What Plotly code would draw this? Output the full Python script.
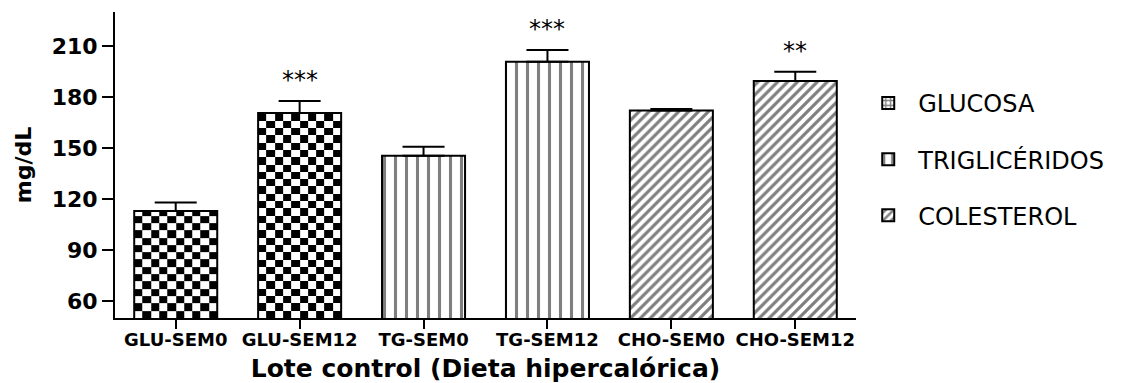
import numpy as np
import plotly.graph_objects as go

# ---- data ----
categories = ["GLU-SEM0", "GLU-SEM12", "TG-SEM0", "TG-SEM12", "CHO-SEM0", "CHO-SEM12"]
means = [112.9, 170.6, 145.5, 200.8, 172.0, 189.4]
sem = [5.0, 7.0, 5.3, 6.8, 1.0, 5.5]
significance = ["", "***", "", "***", "", "**"]
groups = ["GLUCOSA", "TRIGLICÉRIDOS", "COLESTEROL"]
group_idx = {"GLUCOSA": [0, 1], "TRIGLICÉRIDOS": [2, 3], "COLESTEROL": [4, 5]}
y_ticks = [60, 90, 120, 150, 180, 210]

# ---- style ----
BAR_W = 0.67
Y0, Y1 = 50, 230
BOLD = "DejaVu Sans"
fig = go.Figure()

# checkerboard fill for glucose bars (heatmap bricks inside the bar extent)
cell_h = 4.3
ncol = 10
for i in group_idx["GLUCOSA"]:
    xe = [i - BAR_W / 2 + k * BAR_W / ncol for k in range(ncol + 1)]
    ye = list(np.arange(Y0, means[i], cell_h)) + [means[i]]
    z = [[(r + c) % 2 for c in range(ncol)] for r in range(len(ye) - 1)]
    fig.add_trace(go.Heatmap(x=xe, y=ye, z=z, colorscale=[[0, "white"], [1, "black"]],
                             zmin=0, zmax=1, showscale=False, hoverinfo="skip", zsmooth=False))

patterns = {
    "GLUCOSA": dict(shape=""),
    "TRIGLICÉRIDOS": dict(shape="|", size=11, solidity=0.28, fgcolor="black", bgcolor="white"),
    "COLESTEROL": dict(shape="/", size=7, solidity=0.45, fgcolor="black", bgcolor="white"),
}

for gi, g in enumerate(groups):
    idx = group_idx[g]
    fill = "rgba(0,0,0,0)" if g == "GLUCOSA" else "white"
    fig.add_trace(go.Bar(
        x=idx, y=[means[i] for i in idx], width=BAR_W, name=g,
        legendgroup=g, showlegend=(g != "GLUCOSA"),
        marker=dict(color=fill, line=dict(color="black", width=2), pattern=patterns[g]),
        error_y=dict(type="data", symmetric=False, array=[sem[i] for i in idx],
                     arrayminus=[0 for _ in idx], color="black", thickness=2, width=21),
        legendrank=gi + 1,
    ))

# legend proxy for the checkerboard series
fig.add_trace(go.Bar(x=[None], y=[None], name="GLUCOSA", legendgroup="GLUCOSA", legendrank=1,
                     marker=dict(color="white", line=dict(color="black", width=2),
                                 pattern=dict(shape="+", size=6, solidity=0.5,
                                              fgcolor="black", bgcolor="white"))))

for i, s in enumerate(significance):
    if s:
        fig.add_annotation(x=i, y=means[i] + sem[i], text=s, showarrow=False,
                           yanchor="bottom", yshift=5,
                           font=dict(family="DejaVu Sans", size=24, color="black"))

fig.update_layout(
    width=1124, height=383,
    margin=dict(l=115, r=268, t=12, b=65, autoexpand=False),
    plot_bgcolor="white", paper_bgcolor="white",
    barmode="overlay", showlegend=True,
    legend=dict(x=1.003, y=0.775, xanchor="left", yanchor="top", tracegroupgap=22,
                itemwidth=50, font=dict(family="DejaVu Sans", size=24, color="black"),
                bgcolor="rgba(0,0,0,0)"),
    font=dict(family=BOLD, color="black"),
)
fig.update_xaxes(
    range=[-0.49, 5.49], tickmode="array", tickvals=list(range(len(categories))),
    ticktext=categories, ticks="outside", ticklen=9, tickwidth=2, tickcolor="black",
    showline=True, linewidth=2, linecolor="black", showgrid=False, zeroline=False,
    automargin=False, ticklabelstandoff=-5,
    tickfont=dict(family=BOLD, size=18, weight="bold"),
    title=dict(text="Lote control (Dieta hipercalórica)", standoff=12,
               font=dict(family=BOLD, size=25, weight="bold")),
)
fig.update_yaxes(
    range=[Y0, Y1], tickvals=y_ticks, ticks="outside", ticklen=11, tickwidth=2,
    tickcolor="black", showline=True, linewidth=2, linecolor="black",
    showgrid=False, zeroline=False, automargin=False,
    tickfont=dict(family=BOLD, size=22, weight="bold"),
    title=dict(text="mg/dL", standoff=14, font=dict(family=BOLD, size=22, weight="bold")),
)

fig.write_html("out.html")
